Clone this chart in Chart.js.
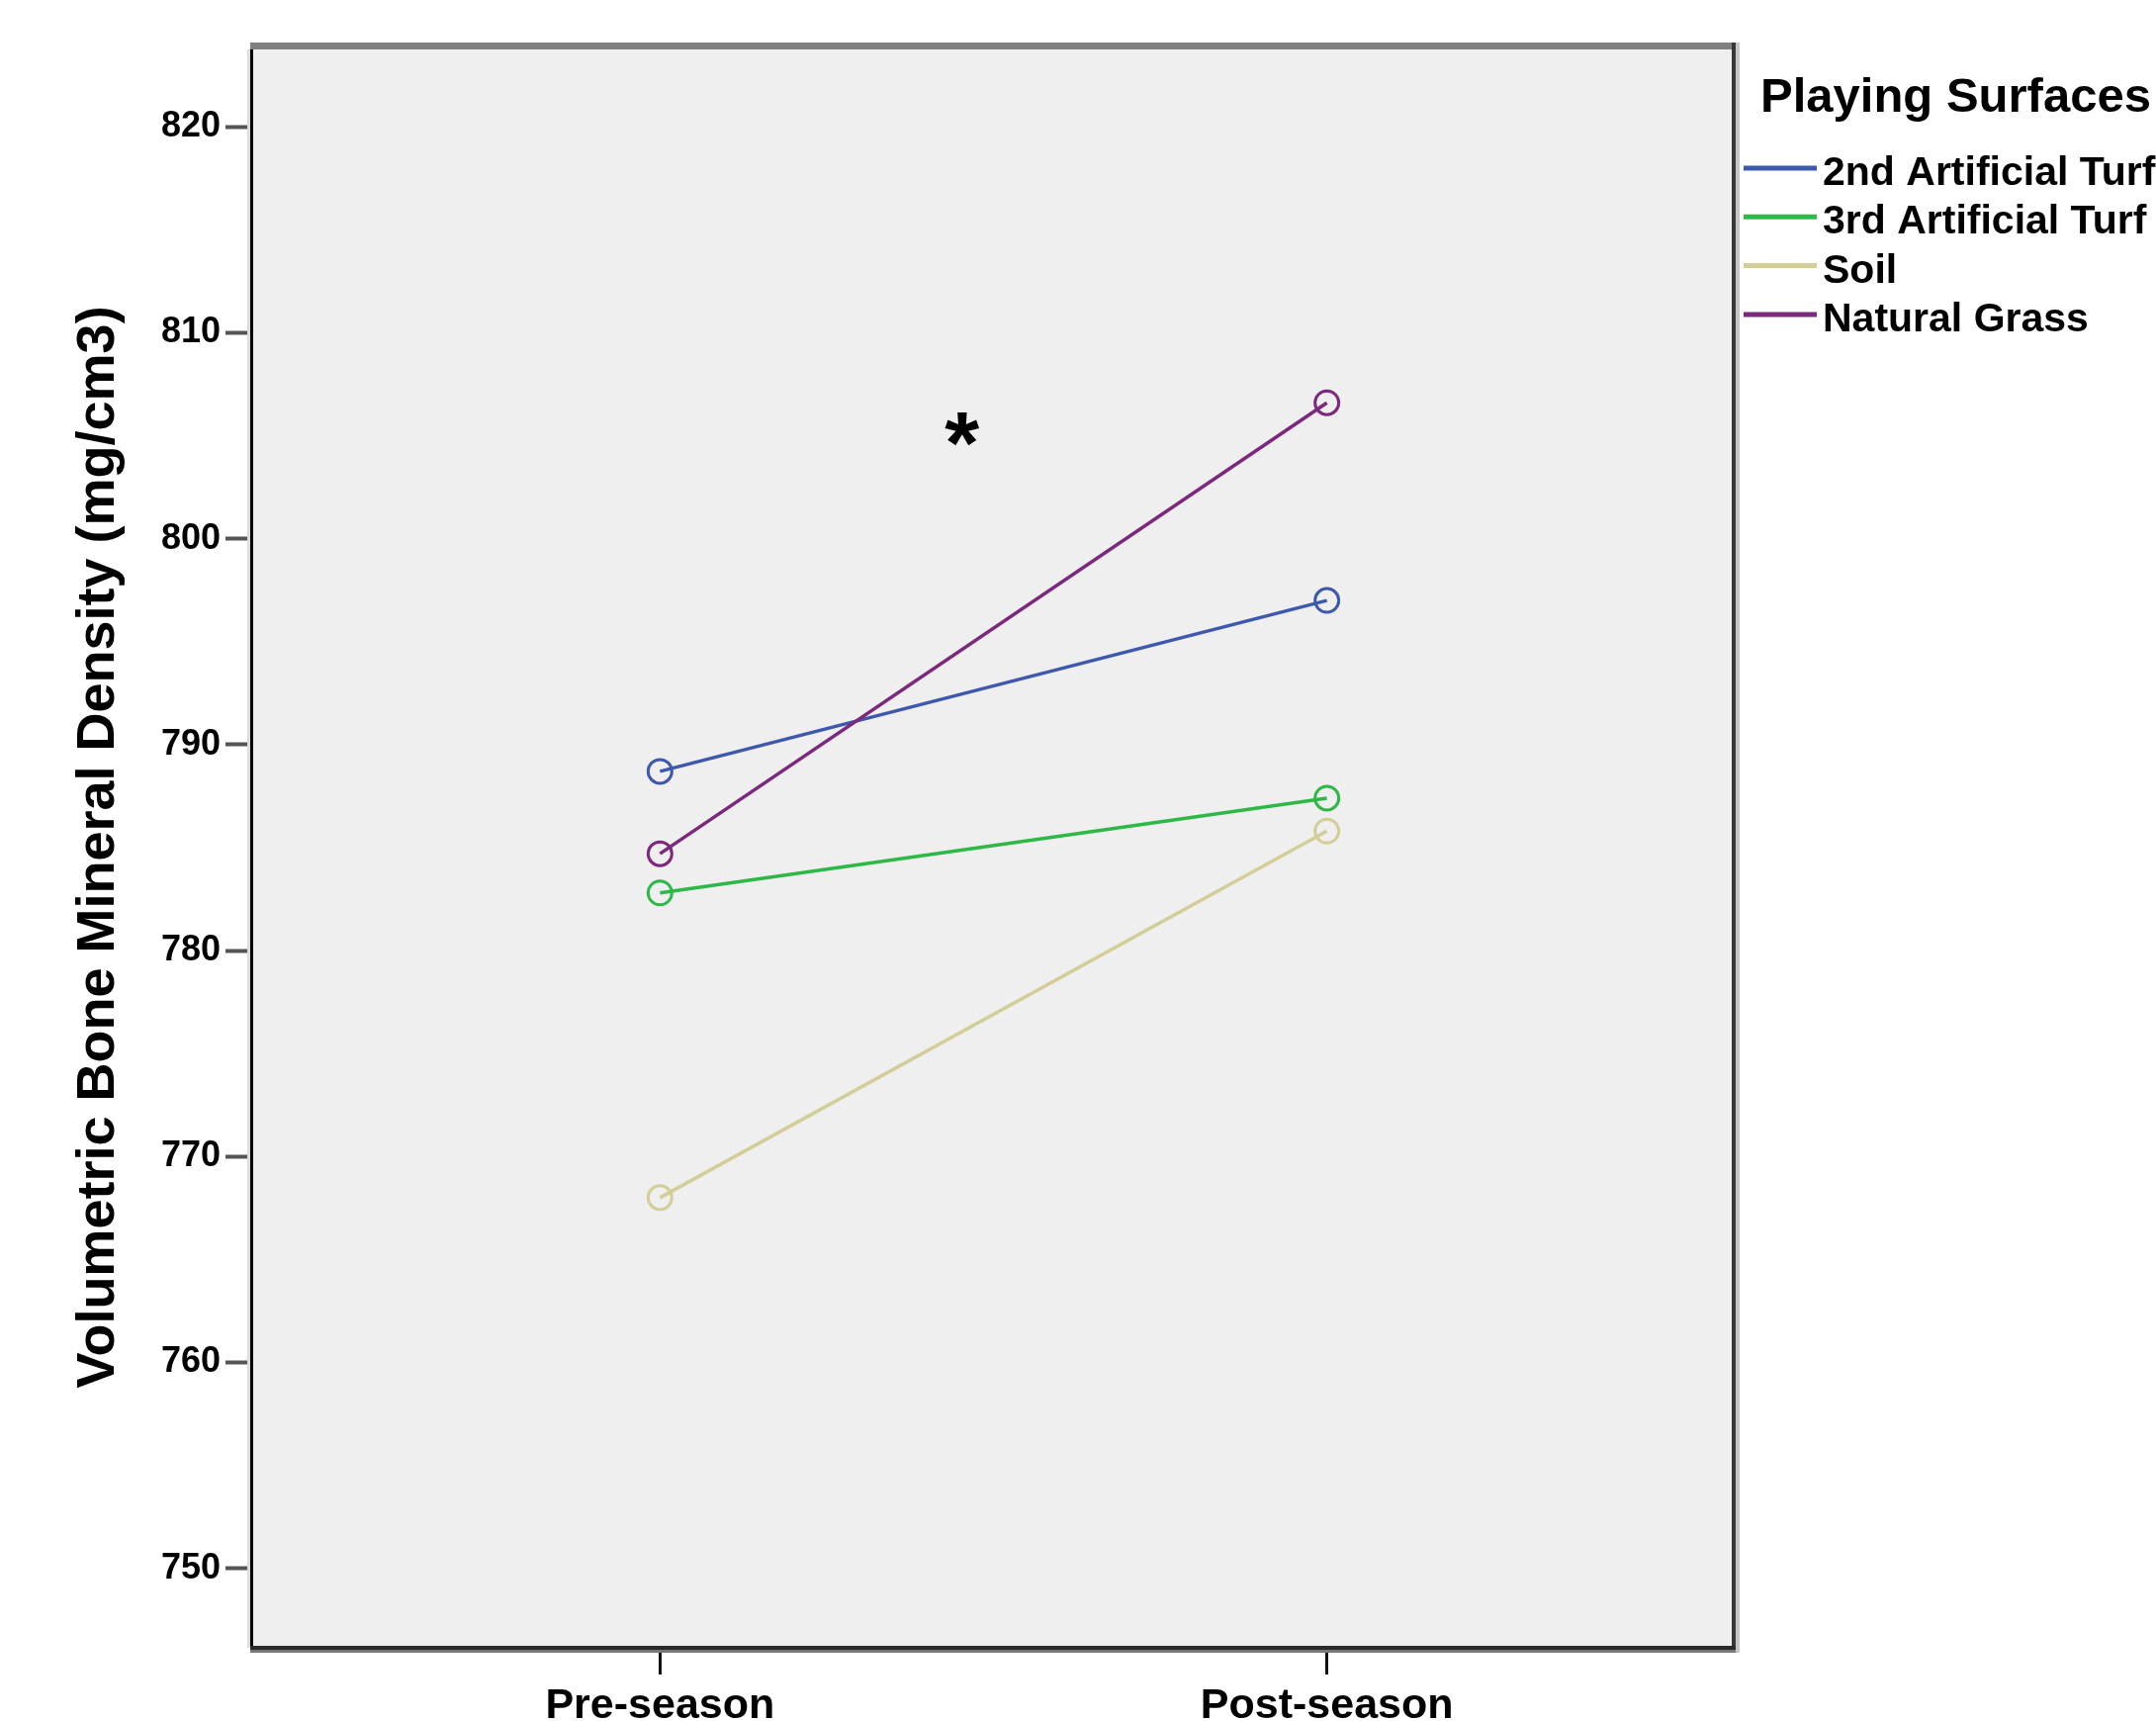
<!DOCTYPE html>
<html>
<head>
<meta charset="utf-8">
<script src="https://cdn.jsdelivr.net/npm/chart.js@4/dist/chart.umd.min.js"></script>
<style>
html,body{margin:0;padding:0;background:#fff;}
#wrap{width:2180px;height:1740px;}
canvas{display:block;}
</style>
</head>
<body>
<div id="wrap"><canvas id="c" width="2180" height="1740"></canvas></div>
<script>
// ---- data ----
const timePoints = ['Pre-season', 'Post-season'];
const seriesNames = ['2nd Artificial Turf', '3rd Artificial Turf', 'Soil', 'Natural Grass'];
const turf2Values = [788.7, 797.0];
const turf3Values = [782.8, 787.4];
const soilValues = [768.0, 785.8];
const grassValues = [784.7, 806.6];
const yTickValues = [750, 760, 770, 780, 790, 800, 810, 820];
const yAxisTitle = 'Volumetric Bone Mineral Density (mg/cm3)';
const legendTitle = 'Playing Surfaces';
const significanceMark = '*';
const significanceX = 0.453;
const significanceY = 805.3;

// ---- styling ----
const FONT = '"Liberation Sans", Arial, sans-serif';
const seriesColors = ['#3e58ac', '#2eb848', '#d3ce97', '#7c287d'];
const seriesValues = [turf2Values, turf3Values, soilValues, grassValues];

const datasets = seriesNames.map((name, i) => ({
  label: name,
  data: timePoints.map((t, j) => ({ x: j, y: seriesValues[i][j] })),
  borderColor: seriesColors[i],
  backgroundColor: 'rgba(0,0,0,0)',
  pointBorderColor: seriesColors[i],
  pointBackgroundColor: 'rgba(0,0,0,0)',
  borderWidth: 3.5,
  pointRadius: 12,
  pointHoverRadius: 12,
  pointBorderWidth: 3,
  tension: 0,
  fill: false,
  order: seriesNames.length - i
}));

const framePlugin = {
  id: 'frame',
  beforeDraw(chart) {
    const { ctx, chartArea: a } = chart;
    ctx.save();
    ctx.fillStyle = '#ffffff';
    ctx.fillRect(0, 0, chart.width, chart.height);
    ctx.fillStyle = '#efefef';
    ctx.fillRect(a.left, a.top, a.right - a.left, a.bottom - a.top);
    ctx.restore();
  },
  afterDraw(chart) {
    const { ctx, chartArea: a } = chart;
    ctx.save();
    ctx.fillStyle = '#dcdcdc';
    ctx.fillRect(a.left - 6, a.top + 3, 3, a.bottom - a.top - 3);
    ctx.fillStyle = '#808080';
    ctx.fillRect(a.left - 3, a.top - 4, a.right - a.left + 5, 7);
    ctx.fillStyle = '#000000';
    ctx.fillRect(a.left - 3, a.top + 3, 3, a.bottom - a.top - 3);
    ctx.fillStyle = '#383838';
    ctx.fillRect(a.right - 2, a.top - 4, 4, a.bottom - a.top + 6);
    ctx.fillStyle = '#c6c6c6';
    ctx.fillRect(a.right + 2, a.top - 4, 4, a.bottom - a.top + 9);
    ctx.fillStyle = '#2a2a2a';
    ctx.fillRect(a.left - 3, a.bottom - 2, a.right - a.left + 5, 4);
    ctx.fillStyle = '#787878';
    ctx.fillRect(a.left - 3, a.bottom + 2, a.right - a.left + 5, 3);
    ctx.restore();
  }
};

const legendPlugin = {
  id: 'customLegend',
  afterDraw(chart) {
    const ctx = chart.ctx;
    ctx.save();
    ctx.textAlign = 'left';
    ctx.textBaseline = 'alphabetic';
    ctx.fillStyle = '#000';
    ctx.font = `bold 49px ${FONT}`;
    ctx.fillText(legendTitle, 1780, 113);
    ctx.font = `bold 41px ${FONT}`;
    chart.data.datasets.forEach((ds, i) => {
      const base = 187 + i * 49.3;
      const ly = base - 17;
      ctx.strokeStyle = ds.borderColor;
      ctx.lineWidth = 5;
      ctx.beginPath();
      ctx.moveTo(1763, ly);
      ctx.lineTo(1837, ly);
      ctx.stroke();
      ctx.fillStyle = '#000';
      ctx.fillText(ds.label, 1843, base);
    });
    ctx.restore();
  }
};

const markPlugin = {
  id: 'sigMark',
  afterDatasetsDraw(chart) {
    const { ctx, scales } = chart;
    const px = scales.x.getPixelForValue(significanceX);
    const py = scales.y.getPixelForValue(significanceY);
    ctx.save();
    ctx.font = `bold 100px ${FONT}`;
    let m = ctx.measureText(significanceMark);
    const inkW = m.actualBoundingBoxLeft + m.actualBoundingBoxRight;
    const size = inkW > 0 ? 100 * 35 / inkW : 100;
    ctx.font = `bold ${size}px ${FONT}`;
    ctx.textAlign = 'center';
    ctx.textBaseline = 'alphabetic';
    m = ctx.measureText(significanceMark);
    const inkMid = (m.actualBoundingBoxAscent - m.actualBoundingBoxDescent) / 2;
    ctx.fillStyle = '#000';
    ctx.fillText(significanceMark, px, py + inkMid);
    ctx.restore();
  }
};

new Chart(document.getElementById('c'), {
  type: 'line',
  data: { datasets },
  plugins: [framePlugin, markPlugin, legendPlugin],
  options: {
    responsive: false,
    animation: false,
    devicePixelRatio: 1,
    layout: { padding: { top: 47, right: 427, left: 0, bottom: 0 } },
    plugins: { legend: { display: false }, tooltip: { enabled: false } },
    scales: {
      x: {
        type: 'linear',
        min: -0.61,
        max: 1.61,
        afterBuildTicks: s => { s.ticks = timePoints.map((t, i) => ({ value: i })); },
        afterFit: s => { s.height = 74; },
        ticks: {
          callback: v => timePoints[v] !== undefined ? timePoints[v] : '',
          font: { family: FONT, size: 43, weight: 'bold' },
          color: '#000',
          padding: 6,
          maxRotation: 0,
          autoSkip: false
        },
        grid: { drawOnChartArea: false, drawTicks: true, tickLength: 27, tickWidth: 3, tickColor: '#111' },
        border: { display: false }
      },
      y: {
        type: 'linear',
        min: 746.14,
        max: 823.9,
        afterBuildTicks: s => { s.ticks = yTickValues.map(v => ({ value: v })); },
        afterFit: s => { s.width = 256; },
        ticks: {
          font: { family: FONT, size: 36, weight: 'bold' },
          color: '#000',
          padding: 5
        },
        grid: { drawOnChartArea: false, drawTicks: true, tickLength: 28, tickWidth: 4, tickColor: '#555' },
        border: { display: false },
        title: {
          display: true,
          text: yAxisTitle,
          font: { family: FONT, size: 54, weight: 'bold' },
          color: '#000',
          padding: { top: 68, bottom: 0 }
        }
      }
    }
  }
});
</script>
</body>
</html>
